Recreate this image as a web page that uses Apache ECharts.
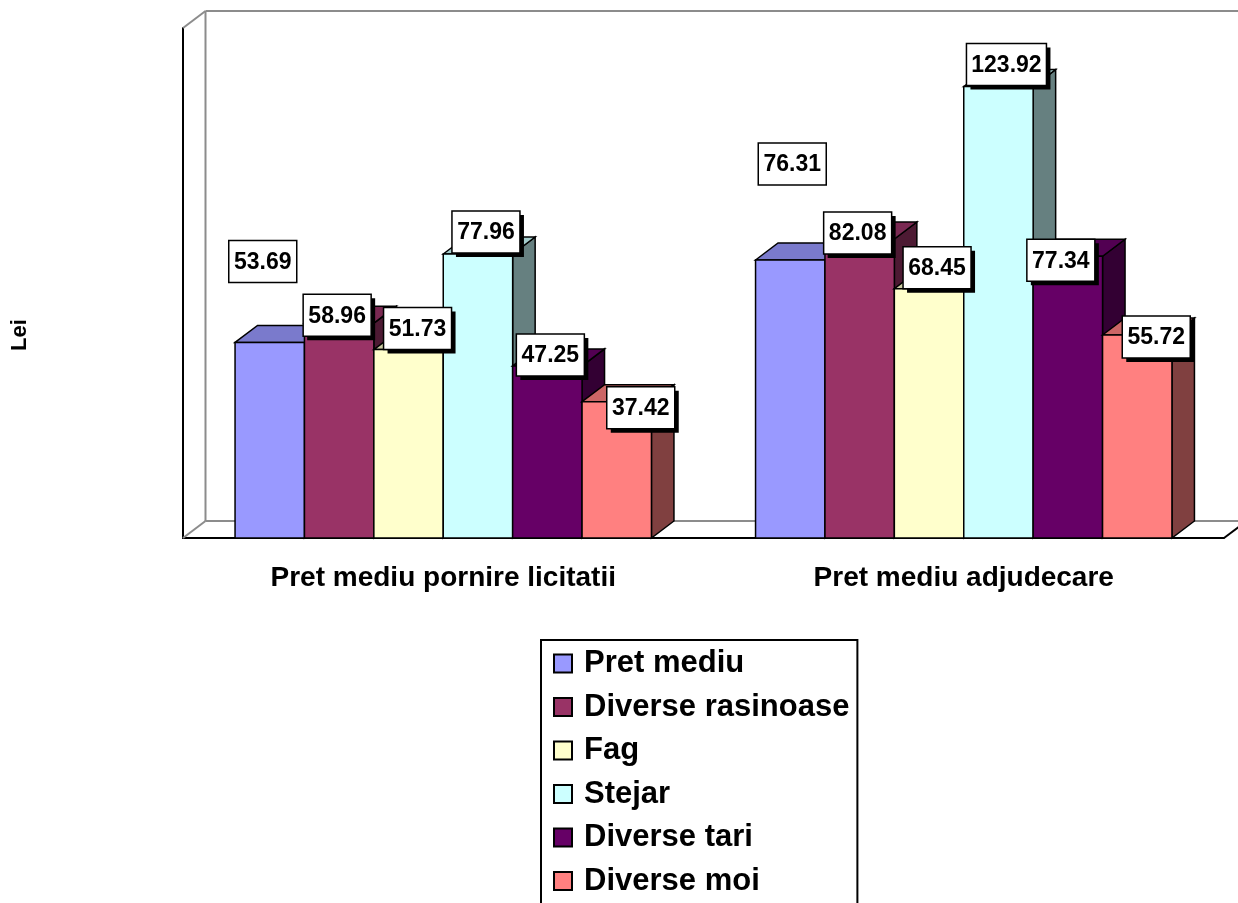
<!DOCTYPE html>
<html><head><meta charset="utf-8">
<script src="https://cdn.jsdelivr.net/npm/echarts@6/dist/echarts.min.js"></script>
<style>html,body{margin:0;padding:0;background:#fff}#c{width:1238px;height:903px}</style>
</head><body><div id="c"></div>
<script>
// ---------- data ----------
const categories = ['Pret mediu pornire licitatii', 'Pret mediu adjudecare'];
const seriesNames = ['Pret mediu', 'Diverse rasinoase', 'Fag', 'Stejar', 'Diverse tari', 'Diverse moi'];
const pretMediu = [53.69, 76.31];
const diverseRasinoase = [58.96, 82.08];
const fag = [51.73, 68.45];
const stejar = [77.96, 123.92];
const diverseTari = [47.25, 77.34];
const diverseMoi = [37.42, 55.72];
const valueAxisMax = 140;
const yAxisName = 'Lei';

// ---------- styles ----------
const seriesValues = [pretMediu, diverseRasinoase, fag, stejar, diverseTari, diverseMoi];
const frontColors = ['#9999FF', '#993366', '#FFFFCC', '#CCFFFF', '#660066', '#FF8080'];
const topColors   = ['#7A7ACC', '#7A2952', '#CCCCA3', '#A3CCCC', '#520052', '#CC6666'];
const sideColors  = ['#4D4D80', '#4D1A33', '#808066', '#668080', '#330033', '#804040'];
const labelShadow = [false, true, true, true, true, true];
// label box nudges (px) relative to the top-front-centre of each bar, [series][category]
const labelNudge = [
  [[-7, -81], [2, -96]],
  [[-2, -8], [-2, -6]],
  [[9, -21], [8, -21]],
  [[8, -22], [8, -22]],
  [[3, -11], [-7, 4]],
  [[24, 6], [19, 2]]
];
const DX = 22.5, DY = -17;
const N = seriesNames.length;
const FONT = '"Liberation Sans", Arial, sans-serif';

function barGeom(api, cat, val, k) {
  const c = api.coord([cat, val]);
  const b = api.coord([cat, 0]);
  const band = api.size([1, 0])[0];
  const groupW = band * 0.8;
  const bw = groupW / N;
  const l = c[0] - groupW / 2 + k * bw;
  return { l: l, r: l + bw, t: c[1], base: b[1], cx: l + bw / 2 };
}

function makeBarRender(k) {
  return function (params, api) {
    const g = barGeom(api, api.value(0), api.value(1), k);
    const st = { stroke: '#000', lineWidth: 1.5, lineJoin: 'miter' };
    return {
      type: 'group',
      children: [
        { type: 'polygon', shape: { points: [[g.r, g.t], [g.r + DX, g.t + DY], [g.r + DX, g.base + DY], [g.r, g.base]] },
          style: Object.assign({ fill: sideColors[k] }, st) },
        { type: 'polygon', shape: { points: [[g.l, g.t], [g.l + DX, g.t + DY], [g.r + DX, g.t + DY], [g.r, g.t]] },
          style: Object.assign({ fill: topColors[k] }, st) },
        { type: 'rect', shape: { x: g.l, y: g.t, width: g.r - g.l, height: g.base - g.t },
          style: Object.assign({ fill: frontColors[k] }, st) }
      ]
    };
  };
}

const measureCtx = document.createElement('canvas').getContext('2d');
const LABEL_FONT = 'bold 23px ' + FONT;
function labelRender(params, api) {
  const cat = api.value(0), val = api.value(1), k = api.value(2);
  const g = barGeom(api, cat, val, k);
  const nudge = labelNudge[k][cat];
  const cx = g.cx + nudge[0], cy = g.t + nudge[1];
  const txt = val.toFixed(2);
  measureCtx.font = LABEL_FONT;
  const w = Math.round(measureCtx.measureText(txt).width) + 10;
  const h = 42;
  const children = [];
  if (labelShadow[k]) {
    children.push({ type: 'rect', shape: { x: cx - w / 2 + 4, y: cy - h / 2 + 4, width: w, height: h }, style: { fill: '#000' } });
  }
  children.push({ type: 'rect', shape: { x: cx - w / 2, y: cy - h / 2, width: w, height: h }, style: { fill: '#fff', stroke: '#000', lineWidth: 1.5 } });
  children.push({ type: 'text', x: cx, y: cy + 1, style: { text: txt, font: LABEL_FONT, fill: '#000', align: 'center', verticalAlign: 'middle' } });
  return { type: 'group', children: children };
}

function frameRender(params, api) {
  const cs = params.coordSys;
  const x0 = cs.x, y0 = cs.y, x1 = cs.x + cs.width, y1 = cs.y + cs.height;
  const grey = { stroke: '#8C8C8C', lineWidth: 2 };
  const lines = [
    [[x0 + DX, y0 + DY], [x0 + DX, y1 + DY]],
    [[x0 + DX, y0 + DY], [x1 + DX, y0 + DY]],
    [[x0 + DX, y1 + DY], [x1 + DX, y1 + DY]],
    [[x0, y0], [x0 + DX, y0 + DY]],
    [[x0, y1], [x0 + DX, y1 + DY]]
  ];
  const children = lines.map(function (p) {
    return { type: 'line', shape: { x1: p[0][0], y1: p[0][1], x2: p[1][0], y2: p[1][1] }, style: grey };
  });
  children.push({ type: 'line', shape: { x1: x1, y1: y1, x2: x1 + DX, y2: y1 + DY }, style: { stroke: '#000', lineWidth: 2 } });
  return { type: 'group', children: children };
}

const series = seriesNames.map(function (name, k) {
  return {
    name: name,
    type: 'custom',
    z: 2 + k,
    renderItem: makeBarRender(k),
    itemStyle: { color: frontColors[k] },
    data: seriesValues[k].map(function (v, i) { return [i, v]; }),
    encode: { x: 0, y: 1 }
  };
});
const labelData = [];
seriesValues.forEach(function (arr, k) { arr.forEach(function (v, i) { labelData.push([i, v, k]); }); });
series.push({ type: 'custom', name: 'labels', z: 20, silent: true, renderItem: labelRender, data: labelData, encode: { x: 0, y: 1 } });
series.push({ type: 'custom', name: 'frame', z: 1, silent: true, renderItem: frameRender, data: [[0, 0]], encode: { x: 0, y: 1 } });

const chart = echarts.init(document.getElementById('c'), null, { renderer: 'canvas' });
chart.setOption({
  animation: false,
  backgroundColor: '#fff',
  grid: { left: 183, right: 14, top: 28, bottom: 365 },
  xAxis: {
    type: 'category',
    data: categories,
    axisLine: { lineStyle: { color: '#000', width: 2 } },
    axisTick: { length: 9, lineStyle: { color: '#000', width: 2 } },
    axisLabel: { color: '#000', fontWeight: 'bold', fontSize: 28, fontFamily: FONT, margin: 26 },
    splitLine: { show: false }
  },
  yAxis: {
    type: 'value',
    min: 0,
    max: valueAxisMax,
    axisLine: { show: true, lineStyle: { color: '#000', width: 2 } },
    axisTick: { show: false },
    axisLabel: { show: false },
    splitLine: { show: false }
  },
  legend: {
    data: seriesNames,
    orient: 'vertical',
    left: 541,
    top: 640,
    height: 270,
    icon: 'rect',
    itemWidth: 18,
    itemHeight: 18,
    itemGap: 12.5,
    padding: [8, 8, 12, 12],
    borderColor: '#000',
    borderWidth: 2,
    itemStyle: { borderColor: '#000', borderWidth: 2 },
    textStyle: { color: '#000', fontWeight: 'bold', fontSize: 31, fontFamily: FONT, lineHeight: 31, padding: [0, 0, 0, 7] },
    selectedMode: false
  },
  graphic: [{
    type: 'text', x: 20, y: 335, rotation: Math.PI / 2,
    style: { text: yAxisName, font: 'bold 22px ' + FONT, fill: '#000', align: 'center', verticalAlign: 'middle' }
  }],
  series: series
});
</script></body></html>
